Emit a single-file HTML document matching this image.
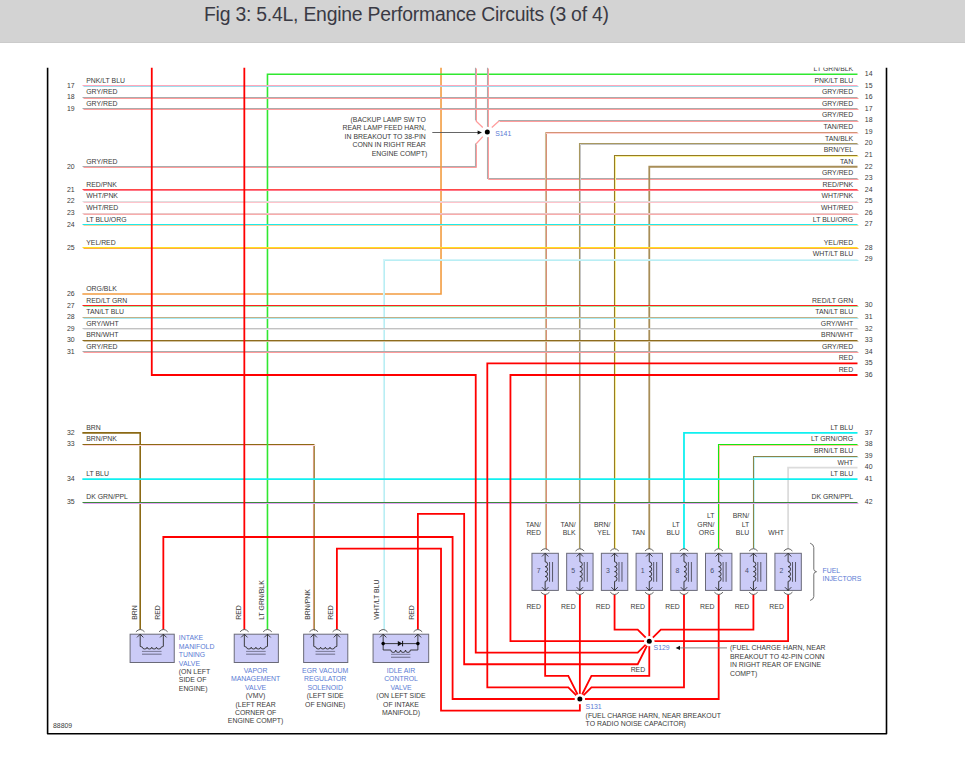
<!DOCTYPE html>
<html><head><meta charset="utf-8"><title>Fig 3: 5.4L, Engine Performance Circuits (3 of 4)</title>
<style>
html,body{margin:0;padding:0;background:#fff;}
body{width:965px;height:764px;overflow:hidden;position:relative;}
.hdr{position:absolute;left:0;top:0;width:965px;height:42px;background:#d3d3d3;border-bottom:1px solid #cbcbcb;}
.hdr h1{position:absolute;left:204px;top:2.2px;margin:0;font:normal 19.4px/24px "Liberation Sans","DejaVu Sans",sans-serif;color:#3a3a44;white-space:nowrap;letter-spacing:-0.23px;}
svg{position:absolute;left:0;top:0;}
svg text{font-family:"Liberation Sans",Arial,sans-serif;font-size:6.9px;}
</style></head><body>
<div class="hdr"><h1>Fig 3: 5.4L, Engine Performance Circuits (3 of 4)</h1></div>
<svg width="965" height="764" viewBox="0 0 965 764">
<defs><clipPath id="cp"><rect x="0" y="67.4" width="965" height="700"/></clipPath></defs>
<g clip-path="url(#cp)">
<g fill="none" stroke-linejoin="miter" stroke-linecap="butt">
<line x1="476" y1="144" x2="482.8" y2="136.55" stroke="#ff9c9c" stroke-width="1.2"/>
<polyline points="82.5,166.5 475.5,166.5 475.5,143.5" stroke="#ababab" stroke-width="1.1"/>
<polyline points="83.5,167.5 476.5,167.5 476.5,144.5" stroke="#ff9c9c" stroke-width="1"/>
<polyline points="82.35,294.03 441.02,294.03 441.02,67.4" stroke="#f29c40" stroke-width="1.6"/>
<polyline points="82.35,432.87 140.2,432.87 140.2,629.6" stroke="#8b6914" stroke-width="1.6"/>
<polyline points="313.5,444.5 313.5,629.5" stroke="#d49a7c" stroke-width="1.1"/>
<polyline points="314.5,445.5 314.5,630.5" stroke="#a48c48" stroke-width="1"/>
<polyline points="82.5,444.5 314.5,444.5" stroke="#8c6a14" stroke-width="1.1"/>
<polyline points="83.5,445.5 315.5,445.5" stroke="#fcd4d8" stroke-width="1"/>
<polyline points="857.5,74.2 267.47,74.2 267.47,629.6" stroke="#30e830" stroke-width="1.6"/>
<line x1="499" y1="121" x2="491.8" y2="127.55" stroke="#ff9c9c" stroke-width="1.2"/>
<polyline points="857.5,120.5 498.5,120.5" stroke="#ababab" stroke-width="1.1"/>
<polyline points="858.5,121.5 499.5,121.5" stroke="#ff9c9c" stroke-width="1"/>
<line x1="476" y1="121" x2="482.8" y2="127.55" stroke="#ff9c9c" stroke-width="1.2"/>
<polyline points="475.5,67.5 475.5,120.5" stroke="#ababab" stroke-width="1.1"/>
<polyline points="476.5,68.5 476.5,121.5" stroke="#ff9c9c" stroke-width="1"/>
<polyline points="487.5,67.5 487.5,129.5" stroke="#ababab" stroke-width="1.1"/>
<polyline points="488.5,68.5 488.5,130.5" stroke="#ff9c9c" stroke-width="1"/>
<polyline points="487.5,135.5 487.5,178.5 857.5,178.5" stroke="#ababab" stroke-width="1.1"/>
<polyline points="488.5,136.5 488.5,179.5 858.5,179.5" stroke="#ff9c9c" stroke-width="1"/>
<polyline points="545.5,132.5 545.5,548.5" stroke="#cdbf98" stroke-width="1.1"/>
<polyline points="546.5,133.5 546.5,549.5" stroke="#d88e76" stroke-width="1"/>
<polyline points="857.5,132.5 545.5,132.5" stroke="#d49474" stroke-width="1.1"/>
<polyline points="858.5,133.5 546.5,133.5" stroke="#ffd0d0" stroke-width="1"/>
<polyline points="857.5,143.5 579.5,143.5 579.5,548.5" stroke="#a89860" stroke-width="1.1"/>
<polyline points="858.5,144.5 580.5,144.5 580.5,549.5" stroke="#c4c4c4" stroke-width="1"/>
<polyline points="857.5,155.5 614.5,155.5 614.5,548.5" stroke="#967c24" stroke-width="1.1"/>
<polyline points="858.5,156.5 615.5,156.5 615.5,549.5" stroke="#faf29a" stroke-width="1"/>
<polyline points="857.5,166.76 649.28,166.76 649.28,548.9" stroke="#a88e58" stroke-width="1.8"/>
<polyline points="857.5,259.5 383.5,259.5 383.5,629.5" stroke="#d4f4f8" stroke-width="1.1"/>
<polyline points="858.5,260.5 384.5,260.5 384.5,630.5" stroke="#b8eef4" stroke-width="1"/>
<polyline points="857.5,432.87 683.99,432.87 683.99,548.9" stroke="#10f0f0" stroke-width="1.8"/>
<polyline points="857.5,444.5 718.5,444.5 718.5,548.5" stroke="#14e814" stroke-width="1.1"/>
<polyline points="858.5,445.5 719.5,445.5 719.5,549.5" stroke="#ffc0a0" stroke-width="1"/>
<polyline points="857.5,456.5 753.5,456.5 753.5,548.5" stroke="#8a8448" stroke-width="1.1"/>
<polyline points="858.5,457.5 754.5,457.5 754.5,549.5" stroke="#c0f2f6" stroke-width="1"/>
<polyline points="857.5,467.58 788.12,467.58 788.12,548.9" stroke="#dcdcdc" stroke-width="1.8"/>
<polyline points="82.5,85.5 857.5,85.5" stroke="#ffa8bc" stroke-width="1.1"/>
<polyline points="83.5,86.5 858.5,86.5" stroke="#9edcec" stroke-width="1"/>
<polyline points="82.5,97.5 857.5,97.5" stroke="#ababab" stroke-width="1.1"/>
<polyline points="83.5,98.5 858.5,98.5" stroke="#ff9c9c" stroke-width="1"/>
<polyline points="82.5,108.5 857.5,108.5" stroke="#ababab" stroke-width="1.1"/>
<polyline points="83.5,109.5 858.5,109.5" stroke="#ff9c9c" stroke-width="1"/>
<polyline points="82.5,189.5 857.5,189.5" stroke="#ff4848" stroke-width="1.1"/>
<polyline points="83.5,190.5 858.5,190.5" stroke="#ff7888" stroke-width="1"/>
<polyline points="82.5,201.5 857.5,201.5" stroke="#dedede" stroke-width="1.1"/>
<polyline points="83.5,202.5 858.5,202.5" stroke="#ffc4cc" stroke-width="1"/>
<polyline points="82.5,213.5 857.5,213.5" stroke="#eac8c8" stroke-width="1.1"/>
<polyline points="83.5,214.5 858.5,214.5" stroke="#f8acac" stroke-width="1"/>
<polyline points="82.5,224.5 857.5,224.5" stroke="#1eeaea" stroke-width="1.1"/>
<polyline points="83.5,225.5 858.5,225.5" stroke="#f8d0a0" stroke-width="1"/>
<polyline points="82.5,247.5 857.5,247.5" stroke="#ffe020" stroke-width="1.1"/>
<polyline points="83.5,248.5 858.5,248.5" stroke="#ffa848" stroke-width="1"/>
<polyline points="82.5,305.5 857.5,305.5" stroke="#ff2020" stroke-width="1.1"/>
<polyline points="83.5,306.5 858.5,306.5" stroke="#98ea98" stroke-width="1"/>
<polyline points="82.5,317.5 857.5,317.5" stroke="#c2b088" stroke-width="1.1"/>
<polyline points="83.5,318.5 858.5,318.5" stroke="#a8eaf2" stroke-width="1"/>
<polyline points="82.5,328.5 857.5,328.5" stroke="#c2c2c2" stroke-width="1.1"/>
<polyline points="83.5,329.5 858.5,329.5" stroke="#e6e6e6" stroke-width="1"/>
<polyline points="82.5,340.5 857.5,340.5" stroke="#8e6c1e" stroke-width="1.1"/>
<polyline points="83.5,341.5 858.5,341.5" stroke="#d2c2a0" stroke-width="1"/>
<polyline points="82.5,351.5 857.5,351.5" stroke="#ababab" stroke-width="1.1"/>
<polyline points="83.5,352.5 858.5,352.5" stroke="#ff9c9c" stroke-width="1"/>
<polyline points="82.5,502.5 857.5,502.5" stroke="#3a8a3a" stroke-width="1.1"/>
<polyline points="83.5,503.5 858.5,503.5" stroke="#e4a4f4" stroke-width="1"/>
<polyline points="82.35,479.15 857.5,479.15" stroke="#10f0f0" stroke-width="1.8"/>
<polyline points="151.77,67.4 151.77,375.02 475.73,375.02 475.73,652.7 637.71,652.7 649.28,641.13" stroke="#ff0000" stroke-width="1.8"/>
<polyline points="244.33,67.4 244.33,629.6" stroke="#ff0000" stroke-width="1.8"/>
<polyline points="163.34,629.6 163.34,537 452.59,537 452.59,698.98 579.86,698.98" stroke="#ff0000" stroke-width="1.8"/>
<polyline points="336.89,629.6 336.89,548.57 441.02,548.57 441.02,710.55 579.86,710.55 579.86,698.98" stroke="#ff0000" stroke-width="1.8"/>
<polyline points="417.88,629.6 417.88,513.86 464.16,513.86 464.16,664.27 637.71,664.27 649.28,641.13" stroke="#ff0000" stroke-width="1.8"/>
<polyline points="857.5,363.45 487.3,363.45 487.3,687.41 568.29,687.41 579.86,698.98" stroke="#ff0000" stroke-width="1.8"/>
<polyline points="857.5,375.02 510.44,375.02 510.44,641.13 649.28,641.13" stroke="#ff0000" stroke-width="1.8"/>
<polyline points="545.15,594.6 545.15,675.84 568.29,675.84 579.86,698.98" stroke="#ff0000" stroke-width="1.8"/>
<polyline points="579.86,594.6 579.86,698.98" stroke="#ff0000" stroke-width="1.8"/>
<polyline points="614.57,594.6 614.57,629.56 637.71,629.56 649.28,641.13" stroke="#ff0000" stroke-width="1.8"/>
<polyline points="649.28,594.6 649.28,641.13 649.28,675.84 591.43,675.84 579.86,698.98" stroke="#ff0000" stroke-width="1.8"/>
<polyline points="683.99,594.6 683.99,687.41 591.43,687.41 579.86,698.98" stroke="#ff0000" stroke-width="1.8"/>
<polyline points="718.7,594.6 718.7,698.98 579.86,698.98" stroke="#ff0000" stroke-width="1.8"/>
<polyline points="753.41,594.6 753.41,629.56 660.85,629.56 649.28,641.13" stroke="#ff0000" stroke-width="1.8"/>
<polyline points="788.12,594.6 788.12,641.13 649.28,641.13" stroke="#ff0000" stroke-width="1.8"/>
</g>
<circle cx="487.3" cy="132.05" r="5.2" fill="#fff"/>
<circle cx="487.3" cy="132.05" r="2.5" fill="#000"/>
<circle cx="649.28" cy="641.13" r="5.2" fill="#fff"/>
<circle cx="649.28" cy="641.13" r="2.5" fill="#000"/>
<circle cx="579.86" cy="698.98" r="5.2" fill="#fff"/>
<circle cx="579.86" cy="698.98" r="2.5" fill="#000"/>
<g fill="#3a3a3a"><rect x="130.1" y="634.2" width="44.14" height="28.3" fill="#cbcbf7" stroke="#6a6a78" stroke-width="1"/>
<path d="M135.9,631.8 Q140.2,627.2 144.5,631.8" fill="none" stroke="#505050" stroke-width="0.9"/>
<path d="M159.04,631.8 Q163.34,627.2 167.64,631.8" fill="none" stroke="#505050" stroke-width="0.9"/>
<polyline points="137,637.4 140.2,634.2 143.4,637.4" fill="none" stroke="#2a2a2a" stroke-width="0.9"/>
<polyline points="160.14,637.4 163.34,634.2 166.54,637.4" fill="none" stroke="#2a2a2a" stroke-width="0.9"/>
<path d="M140.2,634.2 V646.4 L142.4,647.2 A2.34,1.8 0 0 0 147.08,647.2 A2.34,1.8 0 0 0 151.77,647.2 A2.34,1.8 0 0 0 156.46,647.2 A2.34,1.8 0 0 0 161.14,647.2 L163.34,646.4 V634.2" fill="none" stroke="#2a2a2a" stroke-width="0.9"/>
<line x1="141.97" y1="651.4" x2="161.57" y2="651.4" stroke="#7a7a98" stroke-width="1"/>
<line x1="141.97" y1="654.2" x2="161.57" y2="654.2" stroke="#7a7a98" stroke-width="1.2"/>
<rect x="234.23" y="634.2" width="44.14" height="28.3" fill="#cbcbf7" stroke="#6a6a78" stroke-width="1"/>
<path d="M240.03,631.8 Q244.33,627.2 248.63,631.8" fill="none" stroke="#505050" stroke-width="0.9"/>
<path d="M263.17,631.8 Q267.47,627.2 271.77,631.8" fill="none" stroke="#505050" stroke-width="0.9"/>
<polyline points="241.13,637.4 244.33,634.2 247.53,637.4" fill="none" stroke="#2a2a2a" stroke-width="0.9"/>
<polyline points="264.27,637.4 267.47,634.2 270.67,637.4" fill="none" stroke="#2a2a2a" stroke-width="0.9"/>
<path d="M244.33,634.2 V646.4 L246.53,647.2 A2.34,1.8 0 0 0 251.22,647.2 A2.34,1.8 0 0 0 255.9,647.2 A2.34,1.8 0 0 0 260.59,647.2 A2.34,1.8 0 0 0 265.27,647.2 L267.47,646.4 V634.2" fill="none" stroke="#2a2a2a" stroke-width="0.9"/>
<line x1="246.1" y1="651.4" x2="265.7" y2="651.4" stroke="#7a7a98" stroke-width="1"/>
<line x1="246.1" y1="654.2" x2="265.7" y2="654.2" stroke="#7a7a98" stroke-width="1.2"/>
<rect x="303.65" y="634.2" width="44.14" height="28.3" fill="#cbcbf7" stroke="#6a6a78" stroke-width="1"/>
<path d="M309.45,631.8 Q313.75,627.2 318.05,631.8" fill="none" stroke="#505050" stroke-width="0.9"/>
<path d="M332.59,631.8 Q336.89,627.2 341.19,631.8" fill="none" stroke="#505050" stroke-width="0.9"/>
<polyline points="310.55,637.4 313.75,634.2 316.95,637.4" fill="none" stroke="#2a2a2a" stroke-width="0.9"/>
<polyline points="333.69,637.4 336.89,634.2 340.09,637.4" fill="none" stroke="#2a2a2a" stroke-width="0.9"/>
<path d="M313.75,634.2 V646.4 L315.95,647.2 A2.34,1.8 0 0 0 320.63,647.2 A2.34,1.8 0 0 0 325.32,647.2 A2.34,1.8 0 0 0 330,647.2 A2.34,1.8 0 0 0 334.69,647.2 L336.89,646.4 V634.2" fill="none" stroke="#2a2a2a" stroke-width="0.9"/>
<line x1="315.52" y1="651.4" x2="335.12" y2="651.4" stroke="#7a7a98" stroke-width="1"/>
<line x1="315.52" y1="654.2" x2="335.12" y2="654.2" stroke="#7a7a98" stroke-width="1.2"/>
<rect x="373.07" y="634.2" width="55.61" height="28.3" fill="#cbcbf7" stroke="#6a6a78" stroke-width="1"/>
<path d="M378.87,631.8 Q383.17,627.2 387.47,631.8" fill="none" stroke="#505050" stroke-width="0.9"/>
<path d="M413.58,631.8 Q417.88,627.2 422.18,631.8" fill="none" stroke="#505050" stroke-width="0.9"/>
<polyline points="379.97,637.4 383.17,634.2 386.37,637.4" fill="none" stroke="#2a2a2a" stroke-width="0.9"/>
<polyline points="414.68,637.4 417.88,634.2 421.08,637.4" fill="none" stroke="#2a2a2a" stroke-width="0.9"/>
<line x1="383.17" y1="634.2" x2="383.17" y2="650" stroke="#2a2a2a" stroke-width="0.9"/>
<line x1="417.88" y1="634.2" x2="417.88" y2="650" stroke="#2a2a2a" stroke-width="0.9"/>
<line x1="383.17" y1="643.6" x2="417.88" y2="643.6" stroke="#2a2a2a" stroke-width="0.9"/>
<circle cx="383.17" cy="643.6" r="1.8" fill="#000"/>
<circle cx="417.88" cy="643.6" r="1.8" fill="#000"/>
<polygon points="397.8,641 397.8,646.2 402.3,643.6" fill="#111"/>
<line x1="402.6" y1="640.9" x2="402.6" y2="646.3" stroke="#111" stroke-width="1"/>
<path d="M383.17,650 H390.8 A2.45,2.45 0 0 0 395.7,650 A2.45,2.45 0 0 0 400.6,650 A2.45,2.45 0 0 0 405.5,650 A2.45,2.45 0 0 0 410.4,650 H417.88" fill="none" stroke="#2a2a2a" stroke-width="0.9"/>
<line x1="391" y1="654.3" x2="410.4" y2="654.3" stroke="#7a7a98" stroke-width="1"/>
<line x1="391" y1="657.3" x2="410.4" y2="657.3" stroke="#7a7a98" stroke-width="1.2"/>
<rect x="531.95" y="553.3" width="26.4" height="37.1" fill="#cbcbf7" stroke="#6a6a78" stroke-width="1"/>
<path d="M540.85,551 Q545.15,546.4 549.45,551" fill="none" stroke="#505050" stroke-width="0.9"/>
<path d="M540.85,592.2 Q545.15,596.8 549.45,592.2" fill="none" stroke="#505050" stroke-width="0.9"/>
<polyline points="541.95,556.5 545.15,553.3 548.35,556.5" fill="none" stroke="#2a2a2a" stroke-width="0.9"/>
<polyline points="541.95,587.2 545.15,590.4 548.35,587.2" fill="none" stroke="#2a2a2a" stroke-width="0.9"/>
<path d="M545.15,553.3 V561.8 A2.45,2.45 0 0 1 545.15,566.7 A2.45,2.45 0 0 1 545.15,571.6 A2.45,2.45 0 0 1 545.15,576.5 A2.45,2.45 0 0 1 545.15,581.4 V590.4" fill="none" stroke="#2a2a2a" stroke-width="0.9"/>
<line x1="549.55" y1="562" x2="549.55" y2="581.8" stroke="#585868" stroke-width="1"/>
<line x1="552.55" y1="562" x2="552.55" y2="581.8" stroke="#585868" stroke-width="1"/>
<text x="538.55" y="572.8" fill="#48506e" text-anchor="middle">7</text>
<rect x="566.66" y="553.3" width="26.4" height="37.1" fill="#cbcbf7" stroke="#6a6a78" stroke-width="1"/>
<path d="M575.56,551 Q579.86,546.4 584.16,551" fill="none" stroke="#505050" stroke-width="0.9"/>
<path d="M575.56,592.2 Q579.86,596.8 584.16,592.2" fill="none" stroke="#505050" stroke-width="0.9"/>
<polyline points="576.66,556.5 579.86,553.3 583.06,556.5" fill="none" stroke="#2a2a2a" stroke-width="0.9"/>
<polyline points="576.66,587.2 579.86,590.4 583.06,587.2" fill="none" stroke="#2a2a2a" stroke-width="0.9"/>
<path d="M579.86,553.3 V561.8 A2.45,2.45 0 0 1 579.86,566.7 A2.45,2.45 0 0 1 579.86,571.6 A2.45,2.45 0 0 1 579.86,576.5 A2.45,2.45 0 0 1 579.86,581.4 V590.4" fill="none" stroke="#2a2a2a" stroke-width="0.9"/>
<line x1="584.26" y1="562" x2="584.26" y2="581.8" stroke="#585868" stroke-width="1"/>
<line x1="587.26" y1="562" x2="587.26" y2="581.8" stroke="#585868" stroke-width="1"/>
<text x="573.26" y="572.8" fill="#48506e" text-anchor="middle">5</text>
<rect x="601.37" y="553.3" width="26.4" height="37.1" fill="#cbcbf7" stroke="#6a6a78" stroke-width="1"/>
<path d="M610.27,551 Q614.57,546.4 618.87,551" fill="none" stroke="#505050" stroke-width="0.9"/>
<path d="M610.27,592.2 Q614.57,596.8 618.87,592.2" fill="none" stroke="#505050" stroke-width="0.9"/>
<polyline points="611.37,556.5 614.57,553.3 617.77,556.5" fill="none" stroke="#2a2a2a" stroke-width="0.9"/>
<polyline points="611.37,587.2 614.57,590.4 617.77,587.2" fill="none" stroke="#2a2a2a" stroke-width="0.9"/>
<path d="M614.57,553.3 V561.8 A2.45,2.45 0 0 1 614.57,566.7 A2.45,2.45 0 0 1 614.57,571.6 A2.45,2.45 0 0 1 614.57,576.5 A2.45,2.45 0 0 1 614.57,581.4 V590.4" fill="none" stroke="#2a2a2a" stroke-width="0.9"/>
<line x1="618.97" y1="562" x2="618.97" y2="581.8" stroke="#585868" stroke-width="1"/>
<line x1="621.97" y1="562" x2="621.97" y2="581.8" stroke="#585868" stroke-width="1"/>
<text x="607.97" y="572.8" fill="#48506e" text-anchor="middle">3</text>
<rect x="636.08" y="553.3" width="26.4" height="37.1" fill="#cbcbf7" stroke="#6a6a78" stroke-width="1"/>
<path d="M644.98,551 Q649.28,546.4 653.58,551" fill="none" stroke="#505050" stroke-width="0.9"/>
<path d="M644.98,592.2 Q649.28,596.8 653.58,592.2" fill="none" stroke="#505050" stroke-width="0.9"/>
<polyline points="646.08,556.5 649.28,553.3 652.48,556.5" fill="none" stroke="#2a2a2a" stroke-width="0.9"/>
<polyline points="646.08,587.2 649.28,590.4 652.48,587.2" fill="none" stroke="#2a2a2a" stroke-width="0.9"/>
<path d="M649.28,553.3 V561.8 A2.45,2.45 0 0 1 649.28,566.7 A2.45,2.45 0 0 1 649.28,571.6 A2.45,2.45 0 0 1 649.28,576.5 A2.45,2.45 0 0 1 649.28,581.4 V590.4" fill="none" stroke="#2a2a2a" stroke-width="0.9"/>
<line x1="653.68" y1="562" x2="653.68" y2="581.8" stroke="#585868" stroke-width="1"/>
<line x1="656.68" y1="562" x2="656.68" y2="581.8" stroke="#585868" stroke-width="1"/>
<text x="642.68" y="572.8" fill="#48506e" text-anchor="middle">1</text>
<rect x="670.79" y="553.3" width="26.4" height="37.1" fill="#cbcbf7" stroke="#6a6a78" stroke-width="1"/>
<path d="M679.69,551 Q683.99,546.4 688.29,551" fill="none" stroke="#505050" stroke-width="0.9"/>
<path d="M679.69,592.2 Q683.99,596.8 688.29,592.2" fill="none" stroke="#505050" stroke-width="0.9"/>
<polyline points="680.79,556.5 683.99,553.3 687.19,556.5" fill="none" stroke="#2a2a2a" stroke-width="0.9"/>
<polyline points="680.79,587.2 683.99,590.4 687.19,587.2" fill="none" stroke="#2a2a2a" stroke-width="0.9"/>
<path d="M683.99,553.3 V561.8 A2.45,2.45 0 0 1 683.99,566.7 A2.45,2.45 0 0 1 683.99,571.6 A2.45,2.45 0 0 1 683.99,576.5 A2.45,2.45 0 0 1 683.99,581.4 V590.4" fill="none" stroke="#2a2a2a" stroke-width="0.9"/>
<line x1="688.39" y1="562" x2="688.39" y2="581.8" stroke="#585868" stroke-width="1"/>
<line x1="691.39" y1="562" x2="691.39" y2="581.8" stroke="#585868" stroke-width="1"/>
<text x="677.39" y="572.8" fill="#48506e" text-anchor="middle">8</text>
<rect x="705.5" y="553.3" width="26.4" height="37.1" fill="#cbcbf7" stroke="#6a6a78" stroke-width="1"/>
<path d="M714.4,551 Q718.7,546.4 723,551" fill="none" stroke="#505050" stroke-width="0.9"/>
<path d="M714.4,592.2 Q718.7,596.8 723,592.2" fill="none" stroke="#505050" stroke-width="0.9"/>
<polyline points="715.5,556.5 718.7,553.3 721.9,556.5" fill="none" stroke="#2a2a2a" stroke-width="0.9"/>
<polyline points="715.5,587.2 718.7,590.4 721.9,587.2" fill="none" stroke="#2a2a2a" stroke-width="0.9"/>
<path d="M718.7,553.3 V561.8 A2.45,2.45 0 0 1 718.7,566.7 A2.45,2.45 0 0 1 718.7,571.6 A2.45,2.45 0 0 1 718.7,576.5 A2.45,2.45 0 0 1 718.7,581.4 V590.4" fill="none" stroke="#2a2a2a" stroke-width="0.9"/>
<line x1="723.1" y1="562" x2="723.1" y2="581.8" stroke="#585868" stroke-width="1"/>
<line x1="726.1" y1="562" x2="726.1" y2="581.8" stroke="#585868" stroke-width="1"/>
<text x="712.1" y="572.8" fill="#48506e" text-anchor="middle">6</text>
<rect x="740.21" y="553.3" width="26.4" height="37.1" fill="#cbcbf7" stroke="#6a6a78" stroke-width="1"/>
<path d="M749.11,551 Q753.41,546.4 757.71,551" fill="none" stroke="#505050" stroke-width="0.9"/>
<path d="M749.11,592.2 Q753.41,596.8 757.71,592.2" fill="none" stroke="#505050" stroke-width="0.9"/>
<polyline points="750.21,556.5 753.41,553.3 756.61,556.5" fill="none" stroke="#2a2a2a" stroke-width="0.9"/>
<polyline points="750.21,587.2 753.41,590.4 756.61,587.2" fill="none" stroke="#2a2a2a" stroke-width="0.9"/>
<path d="M753.41,553.3 V561.8 A2.45,2.45 0 0 1 753.41,566.7 A2.45,2.45 0 0 1 753.41,571.6 A2.45,2.45 0 0 1 753.41,576.5 A2.45,2.45 0 0 1 753.41,581.4 V590.4" fill="none" stroke="#2a2a2a" stroke-width="0.9"/>
<line x1="757.81" y1="562" x2="757.81" y2="581.8" stroke="#585868" stroke-width="1"/>
<line x1="760.81" y1="562" x2="760.81" y2="581.8" stroke="#585868" stroke-width="1"/>
<text x="746.81" y="572.8" fill="#48506e" text-anchor="middle">4</text>
<rect x="774.92" y="553.3" width="26.4" height="37.1" fill="#cbcbf7" stroke="#6a6a78" stroke-width="1"/>
<path d="M783.82,551 Q788.12,546.4 792.42,551" fill="none" stroke="#505050" stroke-width="0.9"/>
<path d="M783.82,592.2 Q788.12,596.8 792.42,592.2" fill="none" stroke="#505050" stroke-width="0.9"/>
<polyline points="784.92,556.5 788.12,553.3 791.32,556.5" fill="none" stroke="#2a2a2a" stroke-width="0.9"/>
<polyline points="784.92,587.2 788.12,590.4 791.32,587.2" fill="none" stroke="#2a2a2a" stroke-width="0.9"/>
<path d="M788.12,553.3 V561.8 A2.45,2.45 0 0 1 788.12,566.7 A2.45,2.45 0 0 1 788.12,571.6 A2.45,2.45 0 0 1 788.12,576.5 A2.45,2.45 0 0 1 788.12,581.4 V590.4" fill="none" stroke="#2a2a2a" stroke-width="0.9"/>
<line x1="792.52" y1="562" x2="792.52" y2="581.8" stroke="#585868" stroke-width="1"/>
<line x1="795.52" y1="562" x2="795.52" y2="581.8" stroke="#585868" stroke-width="1"/>
<text x="781.52" y="572.8" fill="#48506e" text-anchor="middle">2</text>
<path d="M810.1,543.1 Q813.8,544.5 813.8,547.5 V569.2 Q813.8,571.2 816.5,571.7 Q813.8,572.2 813.8,574.2 V596.5 Q813.8,599.3 810.1,600.5" fill="none" stroke="#606060" stroke-width="0.9"/>
<line x1="432.3" y1="132.5" x2="478.5" y2="132.5" stroke="#555" stroke-width="0.9"/>
<polygon points="482,132.5 477.6,130.4 477.6,134.6" fill="#111"/>
<line x1="679" y1="647.9" x2="727" y2="647.9" stroke="#777" stroke-width="0.9"/>
<polygon points="675.6,647.9 680,645.8 680,650" fill="#111"/></g>
<g fill="#3a3a3a">
<text x="86.2" y="82.77">PNK/LT BLU</text>
<text x="74.6" y="87.77" text-anchor="end">17</text>
<text x="86.2" y="94.34">GRY/RED</text>
<text x="74.6" y="99.34" text-anchor="end">18</text>
<text x="86.2" y="105.91">GRY/RED</text>
<text x="74.6" y="110.91" text-anchor="end">19</text>
<text x="86.2" y="163.76">GRY/RED</text>
<text x="74.6" y="168.76" text-anchor="end">20</text>
<text x="86.2" y="186.9">RED/PNK</text>
<text x="74.6" y="191.9" text-anchor="end">21</text>
<text x="86.2" y="198.47">WHT/PNK</text>
<text x="74.6" y="203.47" text-anchor="end">22</text>
<text x="86.2" y="210.04">WHT/RED</text>
<text x="74.6" y="215.04" text-anchor="end">23</text>
<text x="86.2" y="221.61">LT BLU/ORG</text>
<text x="74.6" y="226.61" text-anchor="end">24</text>
<text x="86.2" y="244.75">YEL/RED</text>
<text x="74.6" y="249.75" text-anchor="end">25</text>
<text x="86.2" y="291.03">ORG/BLK</text>
<text x="74.6" y="296.03" text-anchor="end">26</text>
<text x="86.2" y="302.6">RED/LT GRN</text>
<text x="74.6" y="307.6" text-anchor="end">27</text>
<text x="86.2" y="314.17">TAN/LT BLU</text>
<text x="74.6" y="319.17" text-anchor="end">28</text>
<text x="86.2" y="325.74">GRY/WHT</text>
<text x="74.6" y="330.74" text-anchor="end">29</text>
<text x="86.2" y="337.31">BRN/WHT</text>
<text x="74.6" y="342.31" text-anchor="end">30</text>
<text x="86.2" y="348.88">GRY/RED</text>
<text x="74.6" y="353.88" text-anchor="end">31</text>
<text x="86.2" y="429.87">BRN</text>
<text x="74.6" y="434.87" text-anchor="end">32</text>
<text x="86.2" y="441.44">BRN/PNK</text>
<text x="74.6" y="446.44" text-anchor="end">33</text>
<text x="86.2" y="476.15">LT BLU</text>
<text x="74.6" y="481.15" text-anchor="end">34</text>
<text x="86.2" y="499.29">DK GRN/PPL</text>
<text x="74.6" y="504.29" text-anchor="end">35</text>
<text x="853.2" y="71.2" text-anchor="end">LT GRN/BLK</text>
<text x="864.8" y="76">14</text>
<text x="853.2" y="82.77" text-anchor="end">PNK/LT BLU</text>
<text x="864.8" y="87.57">15</text>
<text x="853.2" y="94.34" text-anchor="end">GRY/RED</text>
<text x="864.8" y="99.14">16</text>
<text x="853.2" y="105.91" text-anchor="end">GRY/RED</text>
<text x="864.8" y="110.71">17</text>
<text x="853.2" y="117.48" text-anchor="end">GRY/RED</text>
<text x="864.8" y="122.28">18</text>
<text x="853.2" y="129.05" text-anchor="end">TAN/RED</text>
<text x="864.8" y="133.85">19</text>
<text x="853.2" y="140.62" text-anchor="end">TAN/BLK</text>
<text x="864.8" y="145.42">20</text>
<text x="853.2" y="152.19" text-anchor="end">BRN/YEL</text>
<text x="864.8" y="156.99">21</text>
<text x="853.2" y="163.76" text-anchor="end">TAN</text>
<text x="864.8" y="168.56">22</text>
<text x="853.2" y="175.33" text-anchor="end">GRY/RED</text>
<text x="864.8" y="180.13">23</text>
<text x="853.2" y="186.9" text-anchor="end">RED/PNK</text>
<text x="864.8" y="191.7">24</text>
<text x="853.2" y="198.47" text-anchor="end">WHT/PNK</text>
<text x="864.8" y="203.27">25</text>
<text x="853.2" y="210.04" text-anchor="end">WHT/RED</text>
<text x="864.8" y="214.84">26</text>
<text x="853.2" y="221.61" text-anchor="end">LT BLU/ORG</text>
<text x="864.8" y="226.41">27</text>
<text x="853.2" y="244.75" text-anchor="end">YEL/RED</text>
<text x="864.8" y="249.55">28</text>
<text x="853.2" y="256.32" text-anchor="end">WHT/LT BLU</text>
<text x="864.8" y="261.12">29</text>
<text x="853.2" y="302.6" text-anchor="end">RED/LT GRN</text>
<text x="864.8" y="307.4">30</text>
<text x="853.2" y="314.17" text-anchor="end">TAN/LT BLU</text>
<text x="864.8" y="318.97">31</text>
<text x="853.2" y="325.74" text-anchor="end">GRY/WHT</text>
<text x="864.8" y="330.54">32</text>
<text x="853.2" y="337.31" text-anchor="end">BRN/WHT</text>
<text x="864.8" y="342.11">33</text>
<text x="853.2" y="348.88" text-anchor="end">GRY/RED</text>
<text x="864.8" y="353.68">34</text>
<text x="853.2" y="360.45" text-anchor="end">RED</text>
<text x="864.8" y="365.25">35</text>
<text x="853.2" y="372.02" text-anchor="end">RED</text>
<text x="864.8" y="376.82">36</text>
<text x="853.2" y="429.87" text-anchor="end">LT BLU</text>
<text x="864.8" y="434.67">37</text>
<text x="853.2" y="441.44" text-anchor="end">LT GRN/ORG</text>
<text x="864.8" y="446.24">38</text>
<text x="853.2" y="453.01" text-anchor="end">BRN/LT BLU</text>
<text x="864.8" y="457.81">39</text>
<text x="853.2" y="464.58" text-anchor="end">WHT</text>
<text x="864.8" y="469.38">40</text>
<text x="853.2" y="476.15" text-anchor="end">LT BLU</text>
<text x="864.8" y="480.95">41</text>
<text x="853.2" y="499.29" text-anchor="end">DK GRN/PPL</text>
<text x="864.8" y="504.09">42</text>
<text x="425.8" y="122" text-anchor="end">(BACKUP LAMP SW TO</text>
<text x="425.8" y="130.4" text-anchor="end">REAR LAMP FEED HARN,</text>
<text x="425.8" y="138.8" text-anchor="end">IN BREAKOUT TO 38-PIN</text>
<text x="425.8" y="147.2" text-anchor="end">CONN IN RIGHT REAR</text>
<text x="427.2" y="155.6" text-anchor="end">ENGINE COMPT)</text>
<text x="495.2" y="135.9" fill="#5a7bd4">S141</text>
<text x="653.6" y="650" fill="#5a7bd4">S129</text>
<text x="585.6" y="708.9" fill="#5a7bd4">S131</text>
<text x="585.6" y="718">(FUEL CHARGE HARN, NEAR BREAKOUT</text>
<text x="585.6" y="726.2">TO RADIO NOISE CAPACITOR)</text>
<text x="730" y="650.3">(FUEL CHARGE HARN, NEAR</text>
<text x="730" y="658.7">BREAKOUT TO 42-PIN CONN</text>
<text x="730" y="667.1">IN RIGHT REAR OF ENGINE</text>
<text x="730" y="675.5">COMPT)</text>
<text x="645.2" y="671.9" text-anchor="end">RED</text>
<text x="822.5" y="573.1" fill="#5a7bd4">FUEL</text>
<text x="822.5" y="581" fill="#5a7bd4">INJECTORS</text>
<text x="53" y="727.6">88809</text>
<text x="540.95" y="526.6" text-anchor="end">TAN/</text>
<text x="540.95" y="535" text-anchor="end">RED</text>
<text x="540.95" y="609" text-anchor="end">RED</text>
<text x="575.66" y="526.6" text-anchor="end">TAN/</text>
<text x="575.66" y="535" text-anchor="end">BLK</text>
<text x="575.66" y="609" text-anchor="end">RED</text>
<text x="610.37" y="526.6" text-anchor="end">BRN/</text>
<text x="610.37" y="535" text-anchor="end">YEL</text>
<text x="610.37" y="609" text-anchor="end">RED</text>
<text x="645.08" y="535" text-anchor="end">TAN</text>
<text x="645.08" y="609" text-anchor="end">RED</text>
<text x="679.79" y="526.6" text-anchor="end">LT</text>
<text x="679.79" y="535" text-anchor="end">BLU</text>
<text x="679.79" y="609" text-anchor="end">RED</text>
<text x="714.5" y="518.2" text-anchor="end">LT</text>
<text x="714.5" y="526.6" text-anchor="end">GRN/</text>
<text x="714.5" y="535" text-anchor="end">ORG</text>
<text x="714.5" y="609" text-anchor="end">RED</text>
<text x="749.21" y="518.2" text-anchor="end">BRN/</text>
<text x="749.21" y="526.6" text-anchor="end">LT</text>
<text x="749.21" y="535" text-anchor="end">BLU</text>
<text x="749.21" y="609" text-anchor="end">RED</text>
<text x="783.92" y="535" text-anchor="end">WHT</text>
<text x="783.92" y="609" text-anchor="end">RED</text>
<text transform="translate(136.5,619.8) rotate(-90)">BRN</text>
<text transform="translate(159.64,619.8) rotate(-90)">RED</text>
<text transform="translate(240.63,619.8) rotate(-90)">RED</text>
<text transform="translate(263.77,619.8) rotate(-90)">LT GRN/BLK</text>
<text transform="translate(310.05,619.8) rotate(-90)">BRN/PNK</text>
<text transform="translate(333.19,619.8) rotate(-90)">RED</text>
<text transform="translate(379.47,619.8) rotate(-90)">WHT/LT BLU</text>
<text transform="translate(414.18,619.8) rotate(-90)">RED</text>
<text x="178.8" y="640.3" fill="#5a7bd4">INTAKE</text>
<text x="178.8" y="648.72" fill="#5a7bd4">MANIFOLD</text>
<text x="178.8" y="657.14" fill="#5a7bd4">TUNING</text>
<text x="178.8" y="665.56" fill="#5a7bd4">VALVE</text>
<text x="178.8" y="673.98">(ON LEFT</text>
<text x="178.8" y="682.4">SIDE OF</text>
<text x="178.8" y="690.82">ENGINE)</text>
<text x="255.6" y="672.9" text-anchor="middle" fill="#5a7bd4">VAPOR</text>
<text x="255.6" y="681.32" text-anchor="middle" fill="#5a7bd4">MANAGEMENT</text>
<text x="255.6" y="689.74" text-anchor="middle" fill="#5a7bd4">VALVE</text>
<text x="255.6" y="698.16" text-anchor="middle">(VMV)</text>
<text x="255.6" y="706.58" text-anchor="middle">(LEFT REAR</text>
<text x="255.6" y="715" text-anchor="middle">CORNER OF</text>
<text x="255.6" y="723.42" text-anchor="middle">ENGINE COMPT)</text>
<text x="325.2" y="672.9" text-anchor="middle" fill="#5a7bd4">EGR VACUUM</text>
<text x="325.2" y="681.32" text-anchor="middle" fill="#5a7bd4">REGULATOR</text>
<text x="325.2" y="689.74" text-anchor="middle" fill="#5a7bd4">SOLENOID</text>
<text x="325.2" y="698.16" text-anchor="middle">(LEFT SIDE</text>
<text x="325.2" y="706.58" text-anchor="middle">OF ENGINE)</text>
<text x="401" y="672.9" text-anchor="middle" fill="#5a7bd4">IDLE AIR</text>
<text x="401" y="681.32" text-anchor="middle" fill="#5a7bd4">CONTROL</text>
<text x="401" y="689.74" text-anchor="middle" fill="#5a7bd4">VALVE</text>
<text x="401" y="698.16" text-anchor="middle">(ON LEFT SIDE</text>
<text x="401" y="706.58" text-anchor="middle">OF INTAKE</text>
<text x="401" y="715" text-anchor="middle">MANIFOLD)</text>
</g>
<polyline points="47.6,67.4 47.6,733.8 886.5,733.8 886.5,67.4" fill="none" stroke="#000" stroke-width="1.6" stroke-linejoin="round"/>
</g>
</svg>
</body></html>
